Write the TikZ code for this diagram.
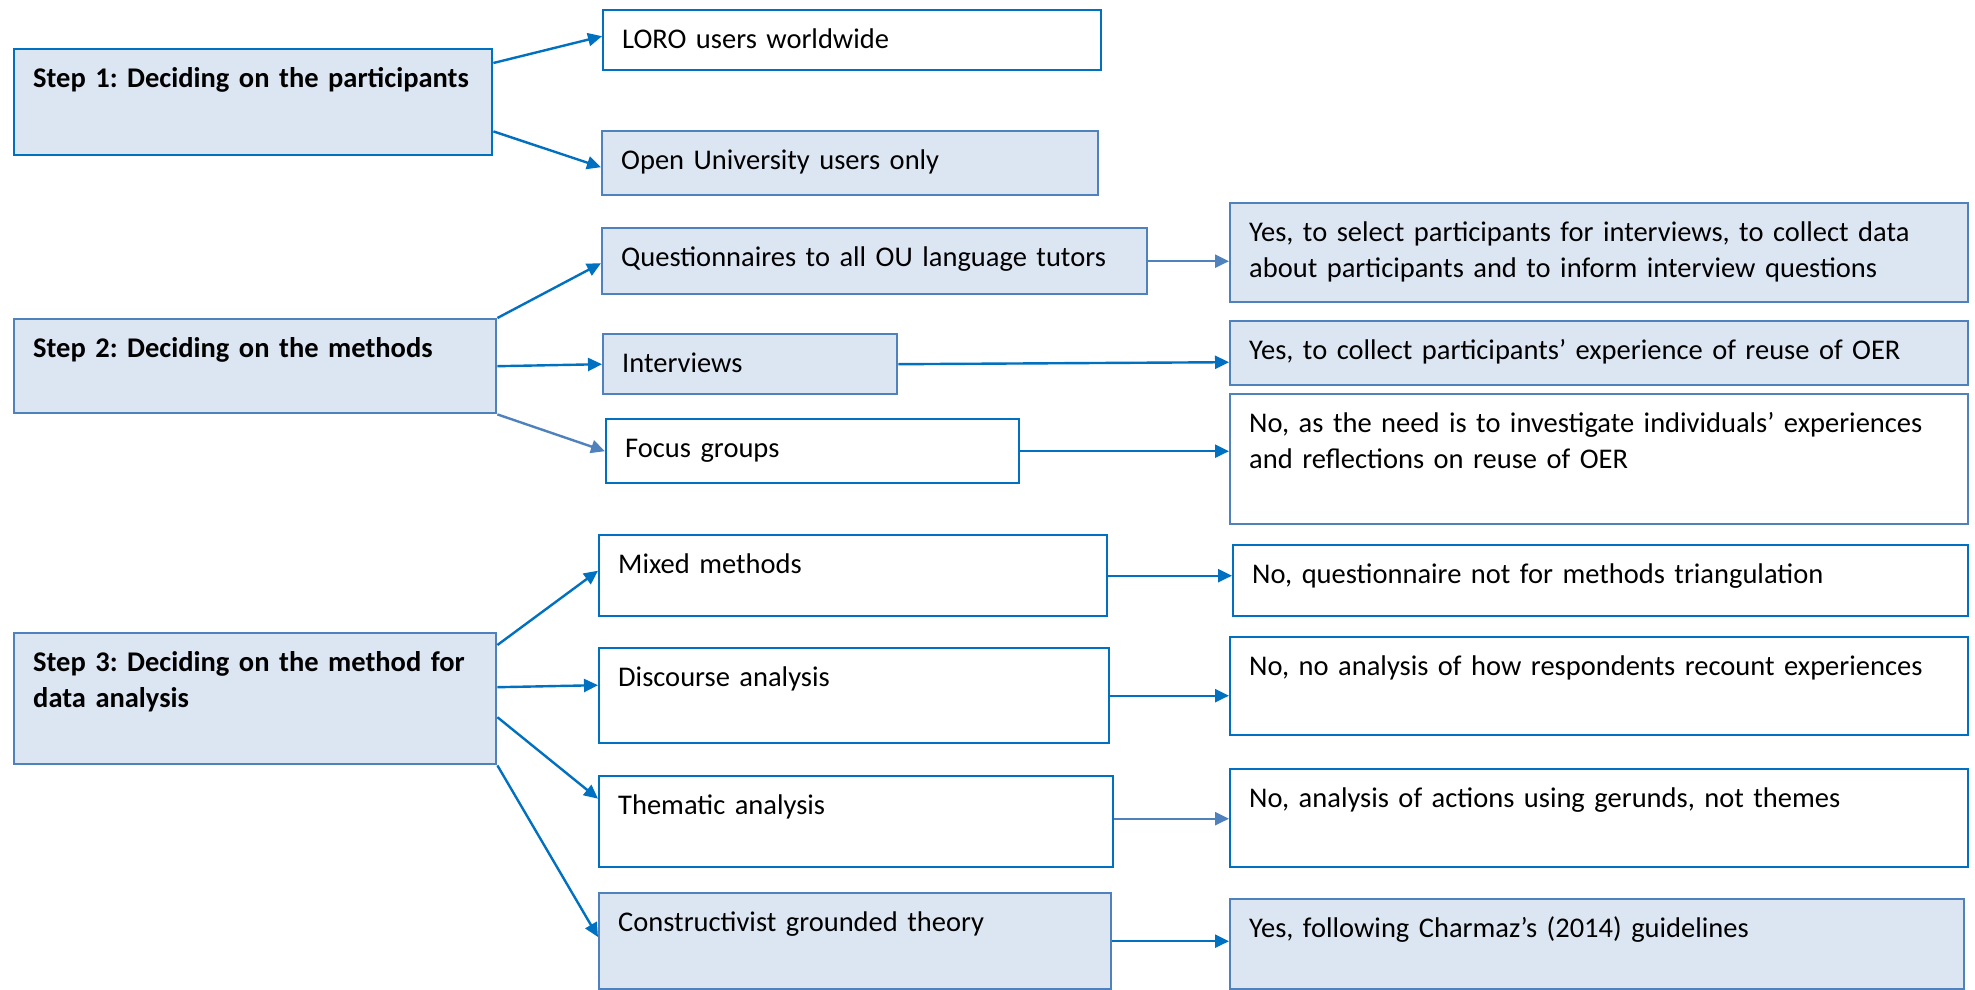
\documentclass[tikz,border=0pt]{standalone}
\usepackage{fontspec}
\setmainfont{Carlito}
\usetikzlibrary{arrows.meta}
\definecolor{fillblue}{HTML}{DCE6F2}
\definecolor{steel}{HTML}{4F81BD}
\definecolor{bright}{HTML}{0070C0}
\frenchspacing
\hyphenpenalty=10000
\tikzset{
  boxbase/.style={draw, line width=2.4pt, inner sep=0pt, anchor=north west},
  filledbox/.style={boxbase, draw=steel, fill=fillblue},
  brightfilled/.style={boxbase, draw=bright, fill=fillblue},
  whitebox/.style={boxbase, draw=bright, fill=white},
  steelwhite/.style={boxbase, draw=steel, fill=white},
  lbl/.style={anchor=north west, inner sep=0pt, align=left, font=\fontsize{28.5}{35.4}\selectfont},
  arr/.style={draw=bright, line width=2.4pt, -{Triangle[length=14pt,width=13pt]}},
  arrs/.style={arr, draw=steel}
}
\newcommand\mybox[7]{%
  \pgfmathsetmacro\bxw{#5-#3}%
  \pgfmathsetmacro\bxh{#6-#4}%
  \pgfmathsetmacro\bxt{#5-#3-24}%
  \node[#2, minimum width=\bxw pt, minimum height=\bxh pt] (#1) at (#3,#4) {};
  \node[lbl, text width=\bxt pt] (#1t) at ([xshift=20pt,yshift=-15pt]#1.north west) {\strut #7};
}
\begin{document}
\begin{tikzpicture}[x=1pt,y=-1pt]
\useasboundingbox[fill=white] (0,0) rectangle (1975,990);
% step 1
\mybox{s1}{brightfilled}{13}{48}{491}{154}{\bfseries Step 1: Deciding on the participants}
\mybox{loro}{whitebox}{602}{9}{1100}{69}{LORO users worldwide}
\mybox{open}{filledbox}{601}{130}{1097}{194}{Open University users only}
% step 2
\mybox{s2}{filledbox}{13}{318}{495}{412}{\bfseries Step 2: Deciding on the methods}
\mybox{quest}{filledbox}{601}{227}{1146}{293}{Questionnaires to all OU language tutors}
\mybox{interv}{filledbox}{602}{333}{896}{393}{Interviews}
\mybox{focus}{whitebox}{605}{418}{1018}{482}{Focus groups}
\mybox{yes1}{filledbox}{1229}{202}{1967}{301}{Yes, to select participants for interviews, to collect data\\ about participants and to inform interview questions}
\mybox{yes2}{filledbox}{1229}{320}{1967}{384}{Yes, to collect participants’ experience of reuse of OER}
\mybox{no1}{steelwhite}{1229}{393}{1967}{523}{No, as the need is to investigate individuals’ experiences\\ and reflections on reuse of OER}
% step 3
\mybox{s3}{filledbox}{13}{632}{495}{763}{\bfseries Step 3: Deciding on the method for\\ data analysis}
\mybox{mixed}{whitebox}{598}{534}{1106}{615}{Mixed methods}
\mybox{disc}{whitebox}{598}{647}{1108}{742}{Discourse analysis}
\mybox{them}{whitebox}{598}{775}{1112}{866}{Thematic analysis}
\mybox{cons}{filledbox}{598}{892}{1110}{988}{Constructivist grounded theory}
\mybox{noq}{whitebox}{1232}{544}{1967}{615}{No, questionnaire not for methods triangulation}
\mybox{non}{whitebox}{1229}{636}{1967}{734}{No, no analysis of how respondents recount experiences}
\mybox{noa}{whitebox}{1229}{768}{1967}{866}{No, analysis of actions using gerunds, not themes}
\mybox{yesf}{filledbox}{1229}{898}{1963}{988}{Yes, following Charmaz’s (2014) guidelines}
% arrows step 1
\draw[arr] ([yshift=-15pt]s1.north east) -- ([yshift=4pt]loro.west);
\draw[arr] ([yshift=25pt]s1.south east) -- ([yshift=-4pt]open.west);
% arrows step 2
\draw[arr] (s2.north east) -- ([yshift=-2pt]quest.west);
\draw[arr] (s2.east) -- (interv.west);
\draw[arrs] (s2.south east) -- (focus.west);
\draw[arrs] (quest.east) -- (quest.east -| yes1.west);
\draw[arr] (interv.east) -- ([yshift=-9pt]yes2.west);
\draw[arr] (focus.east) -- (focus.east -| no1.west);
% arrows step 3
\draw[arr] ([yshift=-13pt]s3.north east) -- ([yshift=5pt]mixed.west);
\draw[arr] ([yshift=11.5pt]s3.east) -- ([yshift=10.5pt]disc.west);
\draw[arr] ([yshift=-18.5pt]s3.east) -- ([yshift=23pt]them.west);
\draw[arr] (s3.south east) -- ([yshift=-45pt]cons.north west);
\draw[arr] (mixed.east) -- (mixed.east -| noq.west);
\draw[arr] (disc.east) -- (disc.east -| non.west);
\coordinate (th) at ([yshift=3pt]them.east);
\draw[arrs] (th) -- (th -| noa.west);
\draw[arr] (cons.east) -- (cons.east -| yesf.west);
\end{tikzpicture}
\end{document}
